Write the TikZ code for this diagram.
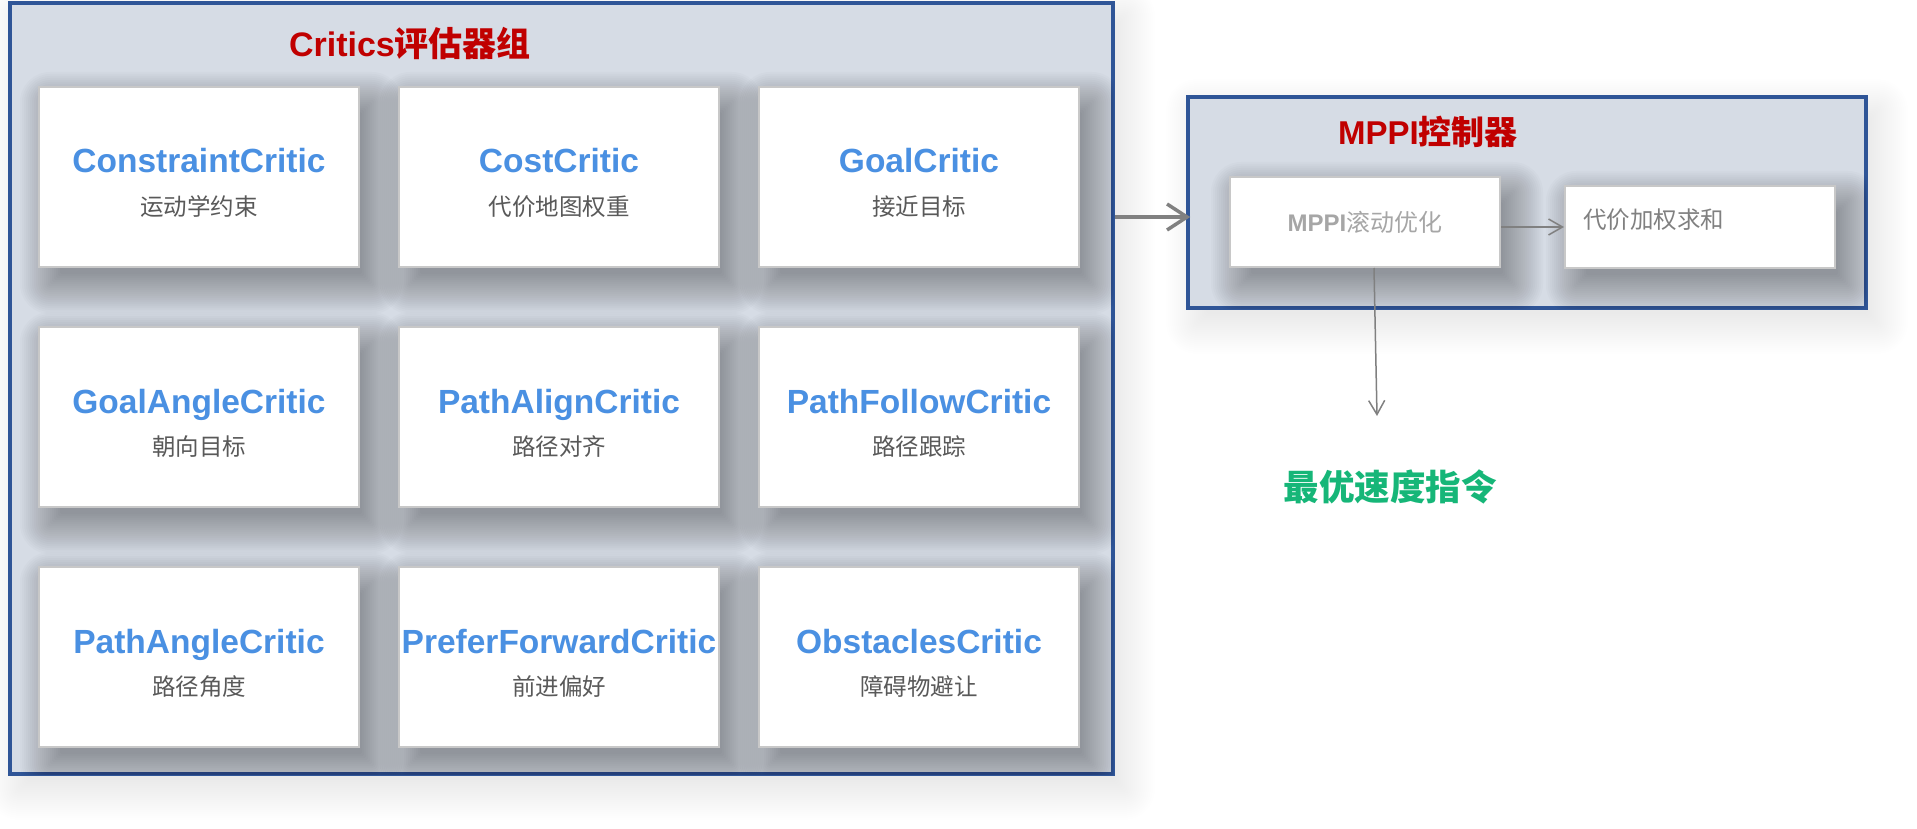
\documentclass[tikz,border=0pt]{standalone}
\usepackage{fontspec}
\setmainfont{Liberation Sans}
\newfontfamily\cjk{Noto Sans CJK SC}
\usetikzlibrary{arrows.meta,positioning}
\definecolor{frameblue}{RGB}{47,85,151}
\definecolor{panelgray}{RGB}{214,220,229}
\definecolor{criticblue}{RGB}{74,144,226}
\definecolor{titlered}{RGB}{192,0,0}
\definecolor{cmdgreen}{RGB}{22,182,120}
\definecolor{cardedge}{RGB}{200,200,200}
\definecolor{subgray}{RGB}{89,89,89}
\definecolor{arrowgray}{RGB}{128,128,128}

\pgfdeclarelayer{panelshadow}
\pgfdeclarelayer{panels}
\pgfdeclarelayer{cardshadow}
\pgfsetlayers{panelshadow,panels,cardshadow,main}

\tikzset{
  panel/.style={draw=frameblue, line width=3.5pt, fill=panelgray, inner sep=0pt},
  critic/.style={draw=cardedge, line width=2pt, fill=white, inner sep=0pt,
    minimum width=320pt, minimum height=180pt},
  stepbox/.style={critic, minimum width=270pt},
  ctitle/.style={text=criticblue, font=\bfseries\fontsize{33.5}{40}\selectfont,
    text height=25pt, text depth=7pt, inner sep=0pt},
  csub/.style={text=subgray, font=\cjk\fontsize{23.5}{28}\selectfont,
    text height=20pt, text depth=4pt, inner sep=0pt},
  grouptitle/.style={text=titlered, font=\bfseries\fontsize{34}{40}\selectfont, inner sep=0pt},
  softlayer/.style={fill=black, fill opacity=#1},
  bigarrow/.style={draw=arrowgray, line width=3.5pt, -{Straight Barb[length=20pt, width=26pt]}},
  thinarrow/.style={draw=arrowgray, line width=1.5pt, -{Straight Barb[length=14pt, width=16pt]}}
}

\begin{document}
\begin{tikzpicture}[x=1pt, y=1pt]
\useasboundingbox (0,0) rectangle (1917,-829);

% panels
\begin{pgfonlayer}{panels}
\node[panel, minimum width=1103pt, minimum height=771pt] (critics) at (561.5,-388.5) {};
\node[panel, minimum width=678pt, minimum height=211pt] (mppi) at (1527,-202.5) {};
\end{pgfonlayer}
\node[grouptitle] (critics-title) at (410,-43) {Critics{\cjk 评估器组}};
\node[grouptitle, font=\bfseries\fontsize{33}{40}\selectfont] (mppi-title) at (1428,-132) {MPPI{\cjk 控制器}};

% row 1
\node[critic] (constraint) at (199,-177) {};
\node[critic] (cost) at (559,-177) {};
\node[critic] (goal) at (919,-177) {};
% row 2
\node[critic] (goalangle) at (199,-417) {};
\node[critic] (pathalign) at (559,-417) {};
\node[critic] (pathfollow) at (919,-417) {};
% row 3
\node[critic] (pathangle) at (199,-657) {};
\node[critic] (preferfwd) at (559,-657) {};
\node[critic] (obstacles) at (919,-657) {};

\node[ctitle] (constraint-t) at ([yshift=13pt]constraint.center) {ConstraintCritic};
\node[csub] (constraint-s) at ([yshift=-30pt]constraint.center) {运动学约束};
\node[ctitle] (cost-t) at ([yshift=13pt]cost.center) {CostCritic};
\node[csub] (cost-s) at ([yshift=-30pt]cost.center) {代价地图权重};
\node[ctitle] (goal-t) at ([yshift=13pt]goal.center) {GoalCritic};
\node[csub] (goal-s) at ([yshift=-30pt]goal.center) {接近目标};
\node[ctitle] (goalangle-t) at ([yshift=13pt]goalangle.center) {GoalAngleCritic};
\node[csub] (goalangle-s) at ([yshift=-30pt]goalangle.center) {朝向目标};
\node[ctitle] (pathalign-t) at ([yshift=13pt]pathalign.center) {PathAlignCritic};
\node[csub] (pathalign-s) at ([yshift=-30pt]pathalign.center) {路径对齐};
\node[ctitle] (pathfollow-t) at ([yshift=13pt]pathfollow.center) {PathFollowCritic};
\node[csub] (pathfollow-s) at ([yshift=-30pt]pathfollow.center) {路径跟踪};
\node[ctitle] (pathangle-t) at ([yshift=13pt]pathangle.center) {PathAngleCritic};
\node[csub] (pathangle-s) at ([yshift=-30pt]pathangle.center) {路径角度};
\node[ctitle] (preferfwd-t) at ([yshift=13pt]preferfwd.center) {PreferForwardCritic};
\node[csub] (preferfwd-s) at ([yshift=-30pt]preferfwd.center) {前进偏好};
\node[ctitle] (obstacles-t) at ([yshift=13pt]obstacles.center) {ObstaclesCritic};
\node[csub] (obstacles-s) at ([yshift=-30pt]obstacles.center) {障碍物避让};

% MPPI steps
\node[stepbox, minimum height=90pt, text=black!35, font=\fontsize{24}{28}\selectfont] (roll) at (1365,-222)
  {{\bfseries MPPI}{\cjk 滚动优化}};
\node[stepbox, minimum height=82pt] (weight) at (1700,-227) {};
\node[csub, text=black!50, anchor=west] (weight-s) at ([xshift=19pt,yshift=6pt]weight.west) {代价加权求和};

% soft shadows
\begin{pgfonlayer}{panelshadow}
\foreach \n in {critics,mppi}
  \foreach \e in {-10,-8,...,30}
    \fill[softlayer=0.005, rounded corners={max(\e,2)*1pt}]
      ([shift={(10-\e,-14-\e)}]\n.south west) rectangle ([shift={(10+\e,-14+\e)}]\n.north east);
\end{pgfonlayer}
\begin{pgfonlayer}{cardshadow}
\foreach \p/\cards in {critics/{constraint,cost,goal,goalangle,pathalign,pathfollow,pathangle,preferfwd,obstacles},
                       mppi/{roll,weight}} {
  \begin{scope}
    \clip ([shift={(1.75,1.75)}]\p.south west) rectangle ([shift={(-1.75,-1.75)}]\p.north east);
    \foreach \n in \cards
      \foreach \e in {-10,-8,...,30}
        \fill[softlayer=0.015, rounded corners={max(\e,2)*1pt}]
          ([shift={(12-\e,-16-\e)}]\n.south west) rectangle ([shift={(12+\e,-16+\e)}]\n.north east);
  \end{scope}
}
\end{pgfonlayer}

% output
\coordinate (cmd-tip) at (1377,-416);
\node[text=cmdgreen, font=\cjk\bfseries\fontsize{35.5}{42}\selectfont, inner sep=0pt] (cmd) at (1390,-487) {最优速度指令};

\coordinate (feed) at ([yshift=5pt]roll.west);
\coordinate (feed-end) at ([xshift=4pt]mppi.west |- feed);
\draw[bigarrow] (critics.east |- feed) -- (feed-end);
\draw[thinarrow] (roll.east |- weight.west) -- (weight.west);
\draw[thinarrow] ([xshift=9pt]roll.south) -- (cmd-tip);
\end{tikzpicture}
\end{document}
